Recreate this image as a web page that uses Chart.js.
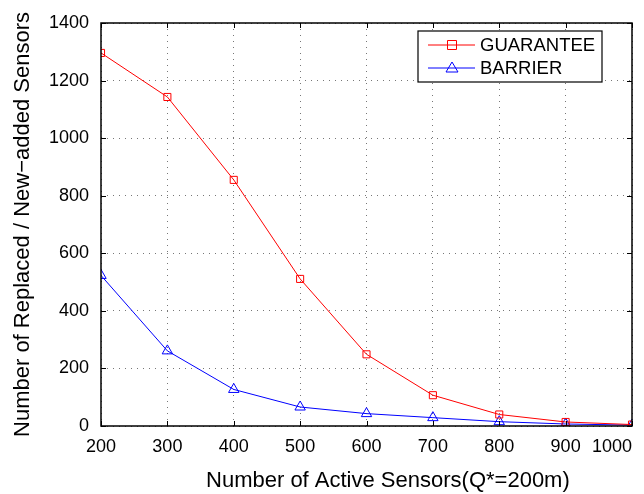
<!DOCTYPE html>
<html>
<head>
<meta charset="utf-8">
<script src="https://cdn.jsdelivr.net/npm/chart.js@4/dist/chart.umd.min.js"></script>
<style>
  html, body { margin: 0; padding: 0; background: #fff; }
  #wrap { width: 644px; height: 494px; }
</style>
</head>
<body>
<div id="wrap"><canvas id="lineChart" width="644" height="494"></canvas></div>
<script>
// Active sensor counts on the x axis
const sensors = [200, 300, 400, 500, 600, 700, 800, 900, 1000];
// Replaced / new-added sensors for each scheme
const guarantee = [1296, 1143, 855, 511, 249, 107, 40, 14, 5];
const barrier = [523, 261, 127, 66, 43, 29, 15, 7, 3];
// Tick values
const xTicks = [200, 300, 400, 500, 600, 700, 800, 900, 1000];
const yTicks = [0, 200, 400, 600, 800, 1000, 1200, 1400];

const fontFamily = '"Liberation Sans", Arial, sans-serif';

// Box around the plot area plus inward tick marks, MATLAB style
const framePlugin = {
    id: 'frame',
    afterDatasetsDraw(chart) {
        const { ctx, chartArea: a, scales } = chart;
        ctx.save();
        ctx.strokeStyle = '#000';
        ctx.lineWidth = 1;
        ctx.beginPath();
        xTicks.forEach(v => {
            const x = Math.round(scales.x.getPixelForValue(v)) + 0.5;
            ctx.moveTo(x, a.bottom); ctx.lineTo(x, a.bottom - 5);
            ctx.moveTo(x, a.top); ctx.lineTo(x, a.top + 5);
        });
        yTicks.forEach(v => {
            const y = Math.round(scales.y.getPixelForValue(v)) + 0.5;
            ctx.moveTo(a.left, y); ctx.lineTo(a.left + 5, y);
            ctx.moveTo(a.right, y); ctx.lineTo(a.right - 5, y);
        });
        ctx.stroke();
        ctx.lineWidth = 1.5;
        ctx.strokeRect(a.left, a.top, a.right - a.left, a.bottom - a.top);
        ctx.restore();
    }
};

// Boxed legend in the upper right corner
const legendPlugin = {
    id: 'boxLegend',
    afterDraw(chart) {
        const { ctx } = chart;
        const x0 = 418, y0 = 31, w = 184, h = 51;
        ctx.save();
        ctx.fillStyle = '#fff';
        ctx.fillRect(x0, y0, w, h);
        ctx.strokeStyle = '#000';
        ctx.lineWidth = 1.2;
        ctx.strokeRect(x0, y0, w, h);
        ctx.font = '18.5px ' + fontFamily;
        ctx.textBaseline = 'middle';
        chart.data.datasets.forEach((ds, i) => {
            const y = y0 + 14 + i * 23;
            ctx.strokeStyle = ds.borderColor;
            ctx.lineWidth = 1;
            ctx.beginPath();
            ctx.moveTo(x0 + 10, y); ctx.lineTo(x0 + 57, y);
            ctx.stroke();
            const cx = x0 + 34;
            ctx.beginPath();
            if (ds.pointStyle === 'rect') {
                ctx.rect(cx - 4.5, y - 4.5, 9, 9);
            } else {
                ctx.moveTo(cx, y - 6); ctx.lineTo(cx + 6, y + 4); ctx.lineTo(cx - 6, y + 4); ctx.closePath();
            }
            ctx.stroke();
            ctx.fillStyle = '#000';
            ctx.fillText(ds.label, x0 + 62, y + 1);
        });
        ctx.restore();
    }
};

const chart = new Chart(document.getElementById('lineChart').getContext('2d'), {
    type: 'line',
    data: {
        datasets: [{
            label: 'GUARANTEE',
            data: sensors.map((s, i) => ({ x: s, y: guarantee[i] })),
            borderColor: '#ff0000',
            backgroundColor: 'rgba(0,0,0,0)',
            borderWidth: 1,
            pointStyle: 'rect',
            pointRadius: 5,
            pointBorderWidth: 1,
            tension: 0
        }, {
            label: 'BARRIER',
            data: sensors.map((s, i) => ({ x: s, y: barrier[i] })),
            borderColor: '#0000ff',
            backgroundColor: 'rgba(0,0,0,0)',
            borderWidth: 1,
            pointStyle: 'triangle',
            pointRadius: 6,
            pointBorderWidth: 1,
            tension: 0
        }]
    },
    options: {
        responsive: false,
        animation: false,
        layout: { padding: { left: 0, right: 12, top: 23, bottom: 0 } },
        plugins: {
            legend: { display: false },
            tooltip: { enabled: false }
        },
        scales: {
            x: {
                type: 'linear',
                min: 200,
                max: 1000,
                afterBuildTicks(axis) { axis.ticks = xTicks.map(v => ({ value: v })); },
                afterFit(axis) { axis.height = 68; axis.paddingLeft = 0; axis.paddingRight = 0; },
                ticks: {
                    color: '#000',
                    font: { family: fontFamily, size: 18 },
                    padding: 10,
                    maxRotation: 0,
                    autoSkip: false,
                    // last label sits left of the frame edge, as in the original figure
                    callback: v => v === 1000 ? String(v) + '\u00a0'.repeat(8) : String(v)
                },
                grid: { color: '#777', drawTicks: false, lineWidth: 1 },
                border: { display: false, dash: [1, 5] },
                title: {
                    display: true,
                    // title is a little right of centre in the original
                    text: '\u00a0'.repeat(7) + 'Number of Active Sensors(Q*=200m)',
                    color: '#000',
                    font: { family: fontFamily, size: 22 },
                    padding: { top: 4, bottom: 0 }
                }
            },
            y: {
                min: 0,
                max: 1400,
                afterBuildTicks(axis) { axis.ticks = yTicks.map(v => ({ value: v })); },
                afterFit(axis) { axis.width = 101; },
                ticks: {
                    color: '#000',
                    font: { family: fontFamily, size: 18 },
                    padding: 12,
                    callback: v => String(v)
                },
                grid: { color: '#777', drawTicks: false, lineWidth: 1 },
                border: { display: false, dash: [1, 5] },
                title: {
                    display: true,
                    text: 'Number of Replaced / New\u2212added Sensors',
                    color: '#000',
                    font: { family: fontFamily, size: 22 },
                    padding: { top: 10, bottom: 0 }
                }
            }
        }
    },
    plugins: [framePlugin, legendPlugin]
});
</script>
</body>
</html>
